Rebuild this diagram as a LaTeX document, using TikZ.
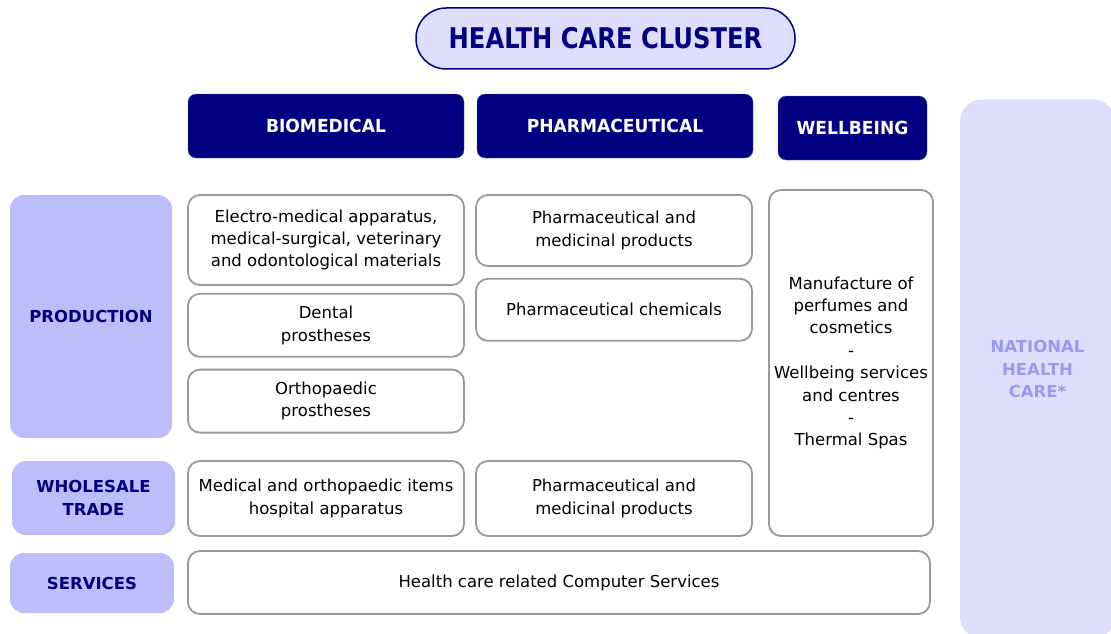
\documentclass[tikz,border=0pt]{standalone}
\usepackage{fontspec}
\setmainfont{DejaVu Sans}
\newfontfamily\headfont{DejaVu Sans}[FakeStretch=0.95]
\newfontfamily\titlefont{DejaVu Sans}[FakeStretch=0.85]
\usepackage{xcolor}
\usepackage{tikz}
\usetikzlibrary{positioning}
\definecolor{navy}{HTML}{000080}
\definecolor{lavender}{HTML}{DEDEFC}
\definecolor{periwinkle}{HTML}{BDBDFB}
\definecolor{boxgrey}{HTML}{999999}
\definecolor{nattext}{HTML}{9A9AEE}
\tikzstyle{cluster} = [rectangle, rounded corners=30pt, draw=navy, line width=1.5pt, fill=lavender, text=navy, font=\titlefont\fontsize{28.5}{32}\selectfont\bfseries]
\tikzstyle{sector} = [rectangle, rounded corners=8pt, draw=navy!60, fill=navy, text=white, font=\headfont\fontsize{18}{22}\selectfont\bfseries, inner sep=0pt]
\tikzstyle{level} = [rectangle, rounded corners=14pt, fill=periwinkle, text=navy, align=center, font=\fontsize{16.5}{22.4}\selectfont\bfseries, inner sep=0pt]
\tikzstyle{activity} = [rectangle, rounded corners=12pt, draw=boxgrey, line width=1.8pt, fill=white, align=center, font=\fontsize{16.5}{22.4}\selectfont, inner sep=0pt]

\begin{document}
\begin{tikzpicture}[x=1pt, y=-1pt]
    \useasboundingbox (0,0) rectangle (1111,634);
    \node (national) [level, fill=lavender, text=nattext, rounded corners=22pt, minimum width=155pt, minimum height=539pt] at (1037.5,369) {NATIONAL\\HEALTH\\CARE*};
    \node (title) [cluster, minimum width=379pt, minimum height=61pt] at (605.5,38.5) {HEALTH CARE CLUSTER};
    \node (bio) [sector, minimum width=276pt, minimum height=64pt] at (326,126) {BIOMEDICAL};
    \node (pharma) [sector, minimum width=276pt, minimum height=64pt] at (615,126) {PHARMACEUTICAL};
    \node (well) [sector, minimum width=149pt, minimum height=64pt] at (852.5,128) {WELLBEING};
    \node (prod) [level, minimum width=162pt, minimum height=243pt] at (91,316.5) {PRODUCTION};
    \node (trade) [level, minimum width=163pt, minimum height=74pt] at (93.5,498) {WHOLESALE\\TRADE};
    \node (serv) [level, minimum width=164pt, minimum height=60pt] at (92,583) {SERVICES};
    \node (electro) [activity, minimum width=276pt, minimum height=90pt] at (326,240) {Electro-medical apparatus,\\medical-surgical, veterinary\\and odontological materials};
    \node (dental) [activity, minimum width=276pt, minimum height=63pt, below=7pt of electro] {Dental\\prostheses};
    \node (ortho) [activity, minimum width=276pt, minimum height=63pt, below=11pt of dental] {Orthopaedic\\prostheses};
    \node (medprod) [activity, minimum width=276pt, minimum height=71pt] at (614,230.5) {Pharmaceutical and\\medicinal products};
    \node (chem) [activity, minimum width=276pt, minimum height=62pt, below=11pt of medprod] {Pharmaceutical chemicals};
    \node (spa) [activity, minimum width=164pt, minimum height=346pt] at (851,363) {Manufacture of\\perfumes and\\cosmetics\\-\\Wellbeing services\\and centres\\-\\Thermal Spas};
    \node (ortitems) [activity, minimum width=276pt, minimum height=75pt] at (326,498.5) {Medical and orthopaedic items\\hospital apparatus};
    \node (medsale) [activity, minimum width=276pt, minimum height=75pt] at (614,498.5) {Pharmaceutical and\\medicinal products};
    \node (comp) [activity, minimum width=742pt, minimum height=63pt] at (559,582.5) {Health care related Computer Services};
\end{tikzpicture}
\end{document}
